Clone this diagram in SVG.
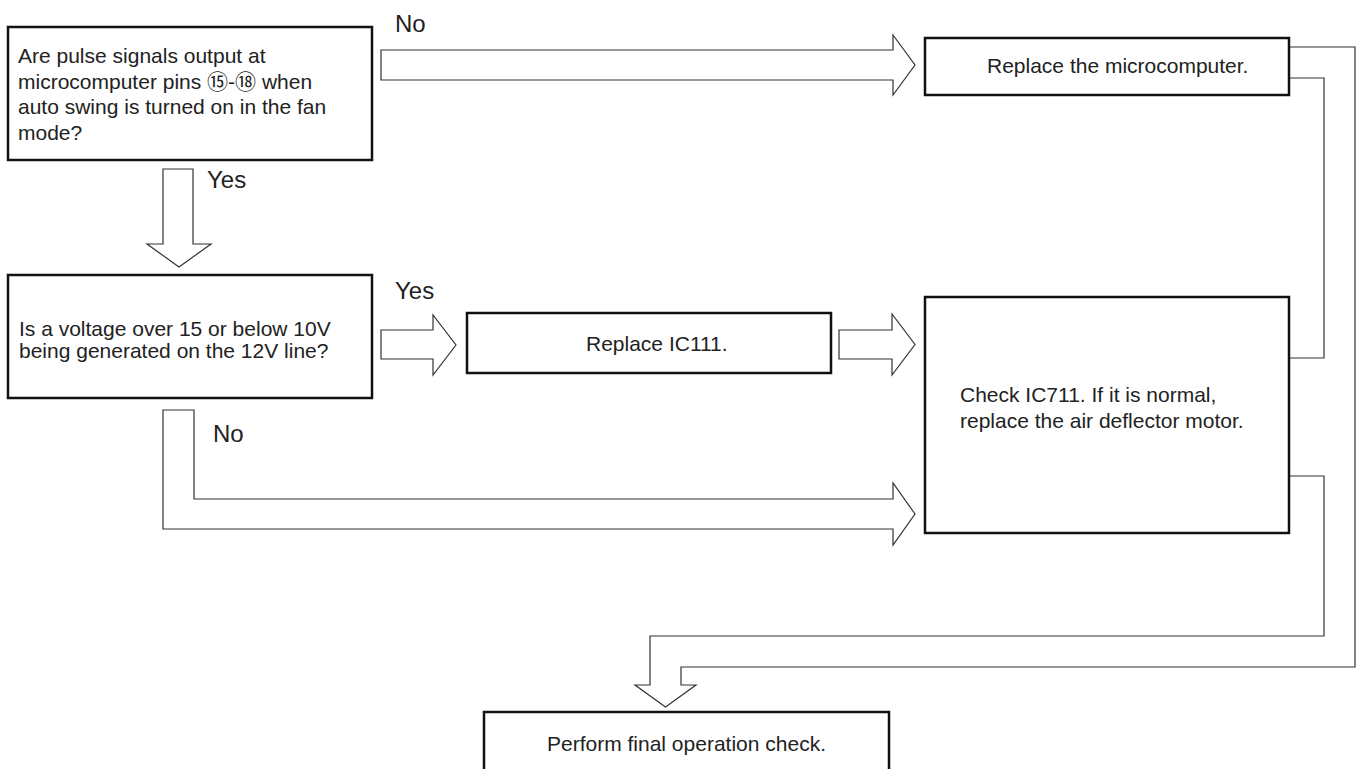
<svg xmlns="http://www.w3.org/2000/svg" width="1362" height="769" viewBox="0 0 1362 769">
<style>
.box{fill:#fff;stroke:#111;stroke-width:2.5}
.arr{fill:#fff;stroke:#333;stroke-width:1.2;stroke-linejoin:miter}
.ln{fill:none;stroke:#333;stroke-width:1.2}
.t{font-family:"Liberation Sans","DejaVu Sans","Noto Sans CJK JP",sans-serif;font-size:21px;fill:#222}
.lbl{font-family:"Liberation Sans","DejaVu Sans",sans-serif;font-size:24px;fill:#222}
</style>
<rect width="1362" height="769" fill="#fff"/>
<g id="connectors">
  <path class="arr" d="M381,50 H893 V35 L915,65 L893,95 V80 H381 Z"/>
  <path class="arr" d="M163,169 H193 V244 H211 L179,267 L147,244 H163 Z"/>
  <path class="arr" d="M381,330 H433 V315 L456,345 L433,375 V359 H381 Z"/>
  <path class="arr" d="M839,330 H892 V314 L915,344.5 L892,375 V359 H839 Z"/>
  <path class="arr" d="M163,410 H194 V499 H893 V483 L915,514 L893,545 V529 H163 Z"/>
  <path class="ln" d="M1289,47 H1355 V667 H681 V685 H696 L665.5,707 L635,685 H650 V636 H1324 V476 H1289"/>
  <path class="ln" d="M1289,78 H1324 V358 H1289"/>
  <text class="lbl" x="395" y="32">No</text>
  <text class="lbl" x="207" y="188">Yes</text>
  <text class="lbl" x="395" y="299">Yes</text>
  <text class="lbl" x="213" y="442">No</text>
</g>
<g id="q1">
  <rect class="box" x="8" y="27" width="364" height="133"/>
  <text class="t" x="18" y="63">Are pulse signals output at</text>
  <text class="t" x="18" y="88.7">microcomputer pins ⑮-⑱ when</text>
  <text class="t" x="18" y="114.3">auto swing is turned on in the fan</text>
  <text class="t" x="18" y="140">mode?</text>
</g>
<g id="replace-micro">
  <rect class="box" x="925" y="38" width="364" height="57"/>
  <text class="t" x="987" y="73">Replace the microcomputer.</text>
</g>
<g id="q2">
  <rect class="box" x="8" y="275" width="364" height="123"/>
  <text class="t" x="19" y="336">Is a voltage over 15 or below 10V</text>
  <text class="t" x="19" y="358">being generated on the 12V line?</text>
</g>
<g id="replace-ic111">
  <rect class="box" x="467" y="313" width="364" height="60"/>
  <text class="t" x="586" y="351">Replace IC111.</text>
</g>
<g id="check-ic711">
  <rect class="box" x="925" y="297" width="364" height="236"/>
  <text class="t" x="960" y="402">Check IC711. If it is normal,</text>
  <text class="t" x="960" y="428.3">replace the air deflector motor.</text>
</g>
<g id="final-check">
  <rect class="box" x="484" y="712" width="405" height="75"/>
  <text class="t" x="547" y="751">Perform final operation check.</text>
</g>
</svg>
